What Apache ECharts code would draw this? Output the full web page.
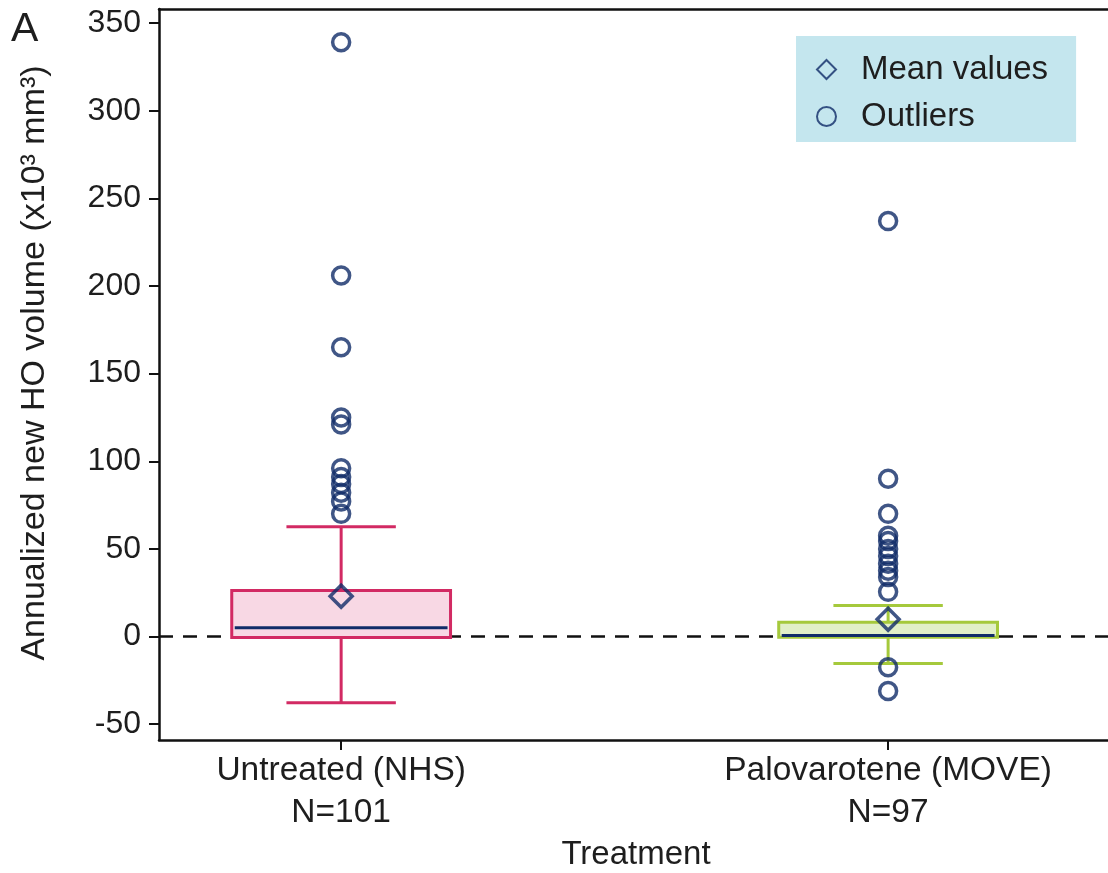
<!DOCTYPE html>
<html>
<head>
<meta charset="utf-8">
<script src="https://cdn.jsdelivr.net/npm/echarts@6/dist/echarts.min.js"></script>
<style>html,body{margin:0;padding:0;background:#fff}#c{width:1108px;height:873px}</style>
</head>
<body>
<div id="c"></div>
<script>
// ---- data ----
const categories = ['Untreated (NHS)', 'Palovarotene (MOVE)'];
const sampleSizes = ['N=101', 'N=97'];
// [low whisker, Q1, median, Q3, high whisker]
const untreatedBox = [-37.7, -0.5, 5, 26.3, 62.7];
const palovaroteneBox = [-15.4, -0.4, 0.6, 8.2, 17.7];
const meanValues = [23, 9.9];
const untreatedOutliers = [339, 206, 165, 125, 121, 96, 91, 87, 82, 77, 70];
const palovaroteneOutliers = [237, 90, 70, 57.5, 54.5, 50, 46, 41.5, 37.5, 34, 25.5, -17.5, -31];
const yTicks = [-50, 0, 50, 100, 150, 200, 250, 300, 350];

// ---- styles ----
const FONT = "'Liberation Sans', Arial, sans-serif";
const TXT = '#1e1e1e';
const NAVY = '#102c68';
const strokeColors = ['#d22a63', '#a5c93c'];
const fillColors = ['#f8d8e4', '#e1efc8'];

const boxData = [untreatedBox, palovaroteneBox].map((b, i) => [i + 1].concat(b));
const meanData = meanValues.map((v, i) => [i + 1, v]);
const outlierData = []
  .concat(untreatedOutliers.map(v => [1, v]))
  .concat(palovaroteneOutliers.map(v => [2, v]));

const chart = echarts.init(document.getElementById('c'), null, {renderer: 'canvas'});

function renderBox(params, api) {
  const x = api.value(0);
  const low = api.coord([x, api.value(1)]);
  const q1 = api.coord([x, api.value(2)]);
  const med = api.coord([x, api.value(3)]);
  const q3 = api.coord([x, api.value(4)]);
  const high = api.coord([x, api.value(5)]);
  const halfBox = api.size([0.2, 0])[0];
  const halfCap = api.size([0.1, 0])[0];
  const cx = low[0];
  const sc = strokeColors[params.dataIndex];
  const fc = fillColors[params.dataIndex];
  const ls = {stroke: sc, lineWidth: 3};
  return {
    type: 'group',
    children: [
      {type: 'line', shape: {x1: cx, y1: high[1], x2: cx, y2: q3[1]}, style: ls},
      {type: 'line', shape: {x1: cx, y1: q1[1], x2: cx, y2: low[1]}, style: ls},
      {type: 'line', shape: {x1: cx - halfCap, y1: high[1], x2: cx + halfCap, y2: high[1]}, style: ls},
      {type: 'line', shape: {x1: cx - halfCap, y1: low[1], x2: cx + halfCap, y2: low[1]}, style: ls},
      {type: 'rect', shape: {x: cx - halfBox, y: q3[1], width: 2 * halfBox, height: q1[1] - q3[1]},
        style: {fill: fc, stroke: sc, lineWidth: 3}},
      {type: 'line', shape: {x1: cx - halfBox + 3, y1: med[1], x2: cx + halfBox - 3, y2: med[1]},
        style: {stroke: NAVY, lineWidth: 3}}
    ]
  };
}

const X_MIN = 0.667, X_MAX = 2.402;

const option = {
  animation: false,
  backgroundColor: '#fff',
  textStyle: {fontFamily: FONT},
  grid: {left: 159, top: 9, right: 0, height: 731},
  xAxis: [{
    type: 'value', min: X_MIN, max: X_MAX,
    axisLine: {show: true, onZero: false, lineStyle: {color: '#111', width: 2.5}},
    axisTick: {show: true, customValues: [1, 2], length: 10, lineStyle: {color: '#111', width: 2}},
    axisLabel: {customValues: [1, 2], margin: 10, fontSize: 33.5, lineHeight: 42, color: TXT, fontFamily: FONT,
      formatter: v => { const i = Math.round(v) - 1; return categories[i] + '\n' + sampleSizes[i]; }},
    splitLine: {show: false}
  }, {
    type: 'value', min: X_MIN, max: X_MAX, position: 'top',
    axisLine: {show: true, onZero: false, lineStyle: {color: '#111', width: 2.5}},
    axisTick: {show: false}, axisLabel: {show: false}, splitLine: {show: false}
  }],
  yAxis: {
    type: 'value', min: -59, max: 358,
    axisLine: {show: true, onZero: false, lineStyle: {color: '#111', width: 2.5}},
    axisTick: {show: true, customValues: yTicks, length: 10, lineStyle: {color: '#111', width: 2}},
    axisLabel: {customValues: yTicks, margin: 18, fontSize: 32, color: TXT, fontFamily: FONT},
    splitLine: {show: false}
  },
  legend: {
    data: ['Mean values', 'Outliers'],
    orient: 'vertical', left: 796, top: 36,
    backgroundColor: '#c4e6ee',
    padding: [17, 28, 9, 20],
    itemWidth: 19, itemHeight: 19, itemGap: 14,
    textStyle: {fontSize: 33, color: TXT, fontFamily: FONT, padding: [0, 0, 0, 20]},
    selectedMode: false
  },
  graphic: [
    {type: 'text', left: 11, top: 9, style: {text: 'A', fontSize: 41, fill: TXT, fontFamily: FONT}},
    {type: 'text', x: 35, y: 363, rotation: Math.PI / 2,
      style: {text: 'Annualized new HO volume (x10³ mm³)', fontSize: 34, fill: TXT, fontFamily: FONT,
        align: 'center', verticalAlign: 'middle'}},
    {type: 'text', x: 636, y: 855,
      style: {text: 'Treatment', fontSize: 33, fill: TXT, fontFamily: FONT, align: 'center', verticalAlign: 'middle'}}
  ],
  series: [
    {
      name: 'zero', type: 'scatter', data: [], z: 1, silent: true,
      markLine: {silent: true, symbol: 'none', z: 1, label: {show: false},
        lineStyle: {color: '#111', width: 2.5, type: [14, 10]},
        data: [{yAxis: 0}]}
    },
    {name: 'boxes', type: 'custom', z: 3, renderItem: renderBox, data: boxData, silent: true},
    {name: 'Outliers', type: 'scatter', z: 4, data: outlierData, symbol: 'circle', symbolSize: 17,
      itemStyle: {color: 'rgba(255,255,255,0)', borderColor: NAVY, borderWidth: 3.5}},
    {name: 'Mean values', type: 'scatter', z: 5, data: meanData, symbol: 'diamond', symbolSize: 22,
      symbolKeepAspect: true,
      itemStyle: {color: 'rgba(255,255,255,0)', borderColor: NAVY, borderWidth: 3.5}}
  ]
};
chart.setOption(option);
</script>
</body>
</html>
